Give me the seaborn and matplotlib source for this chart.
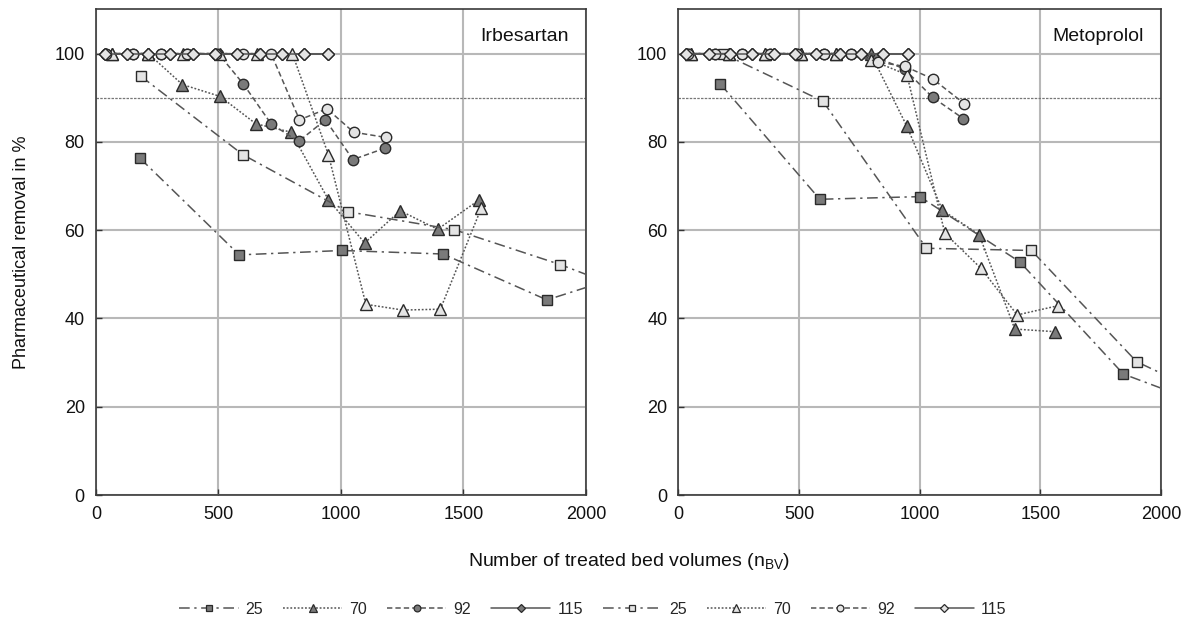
import matplotlib
matplotlib.use("Agg")
import matplotlib.pyplot as plt
import seaborn as sns
from matplotlib.lines import Line2D

sns.set_theme(style="white")
plt.rcParams['font.family'] = ['Liberation Sans', 'DejaVu Sans']

# ---------------- data: Irbesartan (left) ----------------
irb_d25_x = [180, 585, 1004, 1417, 1841, 2260]
irb_d25_y = [76.3, 54.4, 55.4, 54.6, 44.2, 51.6]
irb_d70_x = [64, 214, 353, 507, 653, 797, 949, 1097, 1242, 1395, 1565]
irb_d70_y = [100, 100, 93.0, 90.3, 84.1, 82.2, 66.9, 57.1, 64.4, 60.2, 66.9]
irb_d92_x = [40, 153, 265, 373, 500, 602, 715, 827, 937, 1049, 1181]
irb_d92_y = [100, 100, 100, 100, 100, 93.1, 84.1, 80.1, 85.0, 76.0, 78.6]
irb_d115_x = [37, 126, 214, 303, 398, 487, 575, 668, 759, 850, 949]
irb_d115_y = [100] * 11
irb_l25_x = [183, 600, 1027, 1463, 1896, 2330]
irb_l25_y = [94.9, 77.1, 64.2, 60.1, 52.2, 43.0]
irb_l70_x = [64, 214, 357, 507, 657, 802, 949, 1102, 1253, 1406, 1573]
irb_l70_y = [100, 100, 100, 100, 100, 100, 77.1, 43.2, 41.9, 42.1, 65.0]
irb_l92_x = [40, 153, 265, 373, 490, 602, 715, 831, 943, 1052, 1185]
irb_l92_y = [100, 100, 100, 100, 100, 100, 100, 85.0, 87.5, 82.2, 81.0]
irb_l115_x = [37, 126, 214, 303, 398, 487, 575, 668, 759, 850, 949]
irb_l115_y = [100] * 11

# ---------------- data: Metoprolol (right) ----------------
met_d25_x = [174, 586, 1000, 1415, 1844, 2260]
met_d25_y = [93.1, 67.0, 67.6, 52.8, 27.4, 18.9]
met_d70_x = [53, 209, 357, 509, 654, 797, 947, 1094, 1246, 1394, 1561]
met_d70_y = [100, 100, 100, 100, 100, 100, 83.5, 64.5, 59.0, 37.6, 37.0]
met_d92_x = [40, 153, 265, 378, 490, 602, 715, 827, 937, 1053, 1180]
met_d92_y = [100, 100, 100, 100, 100, 100, 100, 99.0, 96.5, 90.1, 85.3]
met_d115_x = [32, 126, 214, 306, 398, 481, 571, 668, 758, 848, 951]
met_d115_y = [100] * 11
met_l25_x = [184, 599, 1028, 1463, 1899, 2330]
met_l25_y = [100, 89.2, 55.9, 55.4, 30.2, 19.1]
met_l70_x = [53, 209, 357, 509, 654, 797, 947, 1104, 1253, 1404, 1574]
met_l70_y = [100, 100, 100, 100, 100, 98.6, 95.2, 59.3, 51.4, 40.8, 42.9]
met_l92_x = [40, 153, 265, 378, 490, 602, 715, 827, 939, 1053, 1184]
met_l92_y = [100, 100, 100, 100, 100, 100, 100, 98.1, 97.1, 94.3, 88.7]
met_l115_x = [32, 126, 214, 306, 398, 481, 571, 668, 758, 848, 951]
met_l115_y = [100] * 11

labels = ["25", "70", "92", "115"]
x_ticks = [0, 500, 1000, 1500, 2000]
y_ticks = [0, 20, 40, 60, 80, 100]
threshold = 90

DARK = "#7a7a7a"
LIGHT = "#e4e4e4"
EDGE = "#2a2a2a"
LINEC = "#555555"
styles = {
    "25": dict(marker="s", ls=(0, (7, 3, 1.5, 3))),
    "70": dict(marker="^", ls=(0, (1.2, 1.2))),
    "92": dict(marker="o", ls=(0, (3.5, 2))),
    "115": dict(marker="D", ls="-"),
}
msize = {"s": 7.5, "^": 8, "o": 7.5, "D": 6.5}

fig = plt.figure(figsize=(11.93, 6.2), dpi=100)
axL = fig.add_axes([0.0804, 0.2016, 0.4107, 0.7831])
axR = fig.add_axes([0.5687, 0.2016, 0.4045, 0.7831])

left_series = [
    ("25", irb_d25_x, irb_d25_y, DARK), ("70", irb_d70_x, irb_d70_y, DARK),
    ("92", irb_d92_x, irb_d92_y, DARK), ("115", irb_d115_x, irb_d115_y, DARK),
    ("25", irb_l25_x, irb_l25_y, LIGHT), ("70", irb_l70_x, irb_l70_y, LIGHT),
    ("92", irb_l92_x, irb_l92_y, LIGHT), ("115", irb_l115_x, irb_l115_y, LIGHT),
]
right_series = [
    ("25", met_d25_x, met_d25_y, DARK), ("70", met_d70_x, met_d70_y, DARK),
    ("92", met_d92_x, met_d92_y, DARK), ("115", met_d115_x, met_d115_y, DARK),
    ("25", met_l25_x, met_l25_y, LIGHT), ("70", met_l70_x, met_l70_y, LIGHT),
    ("92", met_l92_x, met_l92_y, LIGHT), ("115", met_l115_x, met_l115_y, LIGHT),
]

for ax, series, title in [(axL, left_series, "Irbesartan"), (axR, right_series, "Metoprolol")]:
    ax.set_axisbelow(True)
    ax.grid(True, color="#b8b8b8", lw=1.5)
    ax.axhline(threshold, color="#777777", lw=0.9, ls=(0, (2, 1)), zorder=1.5)
    for lab, xs, ys, fc in series:
        st = styles[lab]
        sns.lineplot(x=xs, y=ys, ax=ax, sort=False, estimator=None,
                     color=LINEC, linestyle=st["ls"], lw=1.1,
                     marker=st["marker"], markersize=msize[st["marker"]],
                     markerfacecolor=fc, markeredgecolor=EDGE, markeredgewidth=1.0,
                     zorder=3, legend=False)
    ax.set_xlim(0, 2000)
    ax.set_ylim(0, 110)
    ax.set_xticks(x_ticks)
    ax.set_yticks(y_ticks)
    ax.tick_params(direction="in", length=4, width=1, colors="#333333",
                   labelsize=13, labelcolor="#111111", pad=8, left=True, bottom=True)
    for sp in ax.spines.values():
        sp.set_color("#3a3a3a")
        sp.set_linewidth(1.2)
    ax.text(0.965, 0.962, title, transform=ax.transAxes, ha="right", va="top",
            fontsize=14, color="#111111",
            bbox=dict(facecolor="white", edgecolor="none", pad=1))

axL.set_ylabel("Pharmaceutical removal in %", fontsize=13, color="#111111", labelpad=18)
fig.text(0.527, 1 - 561 / 620, "Number of treated bed volumes (n$_{\\mathregular{BV}}$)",
         ha="center", va="center", fontsize=14, color="#111111")

# legend
handles = []
leg_labels = []
for fc in (DARK, LIGHT):
    for lab in labels:
        st = styles[lab]
        handles.append(Line2D([], [], color=LINEC, ls=st["ls"], lw=1.1, marker=st["marker"],
                              markersize=msize[st["marker"]] * 0.65, markerfacecolor=fc,
                              markeredgecolor=EDGE, markeredgewidth=0.9))
        leg_labels.append(lab)
fig.legend(handles, leg_labels, loc="center", bbox_to_anchor=(0.497, 1 - 609 / 620),
           ncol=8, frameon=False, handlelength=3.7, columnspacing=1.25,
           handletextpad=0.45,
           prop={"family": ["Liberation Sans Narrow", "Liberation Sans"], "size": 11.5})

fig.savefig("out.png", dpi=100)
